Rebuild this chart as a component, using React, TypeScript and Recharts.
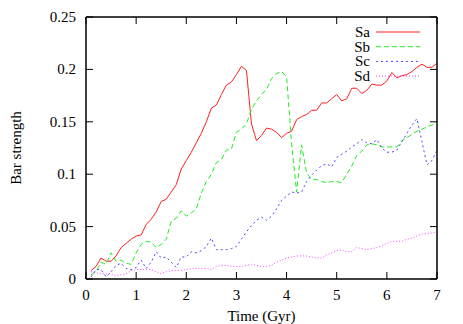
import React from "react";
import { LineChart, Line, XAxis, YAxis, Legend, ReferenceArea } from "recharts";

const TIME = [
  0.1, 0.2, 0.3, 0.4, 0.5, 0.6, 0.7, 0.8, 0.9, 1.0,
  1.1, 1.2, 1.3, 1.4, 1.5, 1.6, 1.7, 1.8, 1.9, 2.0,
  2.1, 2.2, 2.3, 2.4, 2.5, 2.6, 2.7, 2.8, 2.9, 3.0,
  3.1, 3.2, 3.3, 3.4, 3.5, 3.6, 3.7, 3.8, 3.9, 4.0,
  4.1, 4.2, 4.3, 4.4, 4.5, 4.6, 4.7, 4.8, 4.9, 5.0,
  5.1, 5.2, 5.3, 5.4, 5.5, 5.6, 5.7, 5.8, 5.9, 6.0,
  6.1, 6.2, 6.3, 6.4, 6.5, 6.6, 6.7, 6.8, 6.9, 7.0,
];

const SA = [
  0.008, 0.012, 0.020, 0.017, 0.017, 0.022, 0.030, 0.034, 0.038, 0.041,
  0.042, 0.052, 0.057, 0.064, 0.074, 0.076, 0.083, 0.090, 0.105, 0.113,
  0.121, 0.130, 0.139, 0.150, 0.163, 0.166, 0.176, 0.185, 0.188, 0.195,
  0.203, 0.199, 0.148, 0.132, 0.137, 0.144, 0.143, 0.140, 0.135, 0.139,
  0.141, 0.152, 0.155, 0.157, 0.161, 0.161, 0.168, 0.168, 0.172, 0.176,
  0.170, 0.172, 0.182, 0.182, 0.177, 0.180, 0.186, 0.185, 0.185, 0.189,
  0.197, 0.192, 0.194, 0.195, 0.198, 0.202, 0.205, 0.202, 0.202, 0.206,
];

const SB = [
  0.004, 0.007, 0.016, 0.014, 0.025, 0.017, 0.018, 0.015, 0.014, 0.025,
  0.033, 0.036, 0.035, 0.030, 0.033, 0.038, 0.055, 0.058, 0.065, 0.060,
  0.063, 0.067, 0.082, 0.093, 0.100, 0.111, 0.114, 0.123, 0.124, 0.140,
  0.143, 0.148, 0.162, 0.170, 0.176, 0.181, 0.191, 0.196, 0.198, 0.193,
  0.130, 0.083, 0.128, 0.101, 0.095, 0.095, 0.093, 0.092, 0.093, 0.093,
  0.092, 0.100, 0.108, 0.118, 0.122, 0.128, 0.129, 0.128, 0.126, 0.126,
  0.126, 0.126, 0.132, 0.135, 0.138, 0.141, 0.143, 0.145, 0.147, 0.148,
];

const SC = [
  0.002, 0.009, 0.009, 0.002, 0.007, 0.013, 0.015, 0.010, 0.009, 0.011,
  0.018, 0.010, 0.016, 0.026, 0.020, 0.021, 0.016, 0.011, 0.021, 0.021,
  0.026, 0.025, 0.027, 0.031, 0.039, 0.028, 0.028, 0.028, 0.029, 0.031,
  0.038, 0.045, 0.051, 0.056, 0.059, 0.056, 0.060, 0.067, 0.075, 0.079,
  0.083, 0.082, 0.083, 0.093, 0.099, 0.104, 0.108, 0.110, 0.107, 0.116,
  0.119, 0.122, 0.126, 0.129, 0.133, 0.130, 0.129, 0.133, 0.125, 0.121,
  0.121, 0.123, 0.131, 0.139, 0.147, 0.153, 0.131, 0.109, 0.113, 0.123,
];

const SD = [
  0.007, 0.006, 0.005, 0.005, 0.005, 0.003, 0.004, 0.005, 0.008, 0.009,
  0.009, 0.009, 0.009, 0.007, 0.005, 0.007, 0.008, 0.008, 0.008, 0.009,
  0.010, 0.010, 0.010, 0.010, 0.009, 0.012, 0.013, 0.013, 0.012, 0.012,
  0.012, 0.013, 0.014, 0.013, 0.012, 0.012, 0.013, 0.016, 0.018, 0.020,
  0.021, 0.022, 0.022, 0.022, 0.021, 0.020, 0.020, 0.023, 0.025, 0.027,
  0.028, 0.026, 0.026, 0.030, 0.029, 0.028, 0.029, 0.030, 0.032, 0.034,
  0.036, 0.036, 0.036, 0.038, 0.039, 0.041, 0.043, 0.043, 0.044, 0.045,
];

const X_TICKS = [0, 1, 2, 3, 4, 5, 6, 7];
const Y_TICKS = [0, 0.05, 0.1, 0.15, 0.2, 0.25];

const SERIES = [
  { key: "Sa", color: "#ff2020", dash: undefined },
  { key: "Sb", color: "#20ee20", dash: "5 3" },
  { key: "Sc", color: "#4848ff", dash: "2 3" },
  { key: "Sd", color: "#ff40ff", dash: "1 2" },
];

const data = TIME.map((t, i) => ({ t, Sa: SA[i], Sb: SB[i], Sc: SC[i], Sd: SD[i] }));

const FONT = '"Liberation Serif", "Times New Roman", serif';
const TICK_LEN = 7;
const X_GAP = 10; // label gap below bottom axis
const Y_GAP = 10; // label gap left of left axis
const axisLine = { stroke: "#000", strokeWidth: 1 };

// gnuplot-style ticks: marks point into the plot, labels stay outside
const bottomTick = (p: any) => {
  const y0 = p.y - X_GAP;
  return (
    <g>
      <line x1={p.x} x2={p.x} y1={y0} y2={y0 - TICK_LEN} stroke="#000" strokeWidth={1} />
      <text x={p.x} y={p.y + 11} textAnchor="middle" fontSize={15} fontFamily={FONT} fill="#000">
        {p.payload.value}
      </text>
    </g>
  );
};

const topTick = (p: any) => {
  const y0 = p.y + X_GAP;
  return <line x1={p.x} x2={p.x} y1={y0} y2={y0 + TICK_LEN} stroke="#000" strokeWidth={1} />;
};

const leftTick = (p: any) => {
  const x0 = p.x + Y_GAP;
  return (
    <g>
      <line x1={x0} x2={x0 + TICK_LEN} y1={p.y} y2={p.y} stroke="#000" strokeWidth={1} />
      <text x={p.x} y={p.y + 5} textAnchor="end" fontSize={15} fontFamily={FONT} fill="#000">
        {p.payload.value}
      </text>
    </g>
  );
};

const rightTick = (p: any) => {
  const x0 = p.x - Y_GAP;
  return <line x1={x0} x2={x0 - TICK_LEN} y1={p.y} y2={p.y} stroke="#000" strokeWidth={1} />;
};

function KeyBox() {
  return (
    <svg width={90} height={65} style={{ display: "block" }}>
      {SERIES.map((s, i) => {
        const cy = 12 + i * 14.7;
        return (
          <g key={s.key}>
            <text x={30} y={cy + 5} textAnchor="end" fontSize={15} fontFamily={FONT} fill="#000">
              {s.key}
            </text>
            <line x1={36} x2={80} y1={cy} y2={cy} stroke={s.color} strokeDasharray={s.dash} />
          </g>
        );
      })}
    </svg>
  );
}

export default function App() {
  return (
    <div style={{ position: "absolute", left: 0, top: 0, width: 463, height: 324, background: "#fff", fontFamily: FONT }}>
      <LineChart width={463} height={324} data={data} margin={{ top: 16, right: 25, bottom: 0, left: 0 }}>
        <XAxis
          dataKey="t"
          type="number"
          domain={[0, 7]}
          ticks={X_TICKS}
          height={45}
          tickSize={0}
          tickMargin={X_GAP}
          tick={bottomTick}
          axisLine={axisLine}
          tickLine={false}
          label={{ value: "Time (Gyr)", position: "insideBottom", offset: 3, fontSize: 15, fill: "#000", fontFamily: FONT }}
        />
        <XAxis
          xAxisId="top"
          dataKey="t"
          orientation="top"
          type="number"
          domain={[0, 7]}
          ticks={X_TICKS}
          height={1}
          tickSize={0}
          tickMargin={X_GAP}
          tick={topTick}
          axisLine={axisLine}
          tickLine={false}
        />
        <YAxis
          type="number"
          domain={[0, 0.25]}
          ticks={Y_TICKS}
          width={86}
          tickSize={0}
          tickMargin={Y_GAP}
          tick={leftTick}
          axisLine={axisLine}
          tickLine={false}
          label={{ value: "Bar strength", angle: -90, position: "insideLeft", offset: 16, fontSize: 15, fill: "#000", fontFamily: FONT, style: { textAnchor: "middle" } }}
        />
        <YAxis
          yAxisId="right"
          orientation="right"
          type="number"
          domain={[0, 0.25]}
          ticks={Y_TICKS}
          width={1}
          tickSize={0}
          tickMargin={Y_GAP}
          tick={rightTick}
          axisLine={axisLine}
          tickLine={false}
        />
        <ReferenceArea x1={0} x2={7} y1={0} y2={0.25} fill="none" stroke="#000" strokeWidth={1} ifOverflow="visible" />
        <Legend
          layout="vertical"
          align="center"
          verticalAlign="middle"
          content={() => <KeyBox />}
          wrapperStyle={{ position: "absolute", left: 340, top: 20, width: 90, height: 65 }}
        />
        {SERIES.map((s, i) => (
          <Line
            key={s.key}
            dataKey={s.key}
            xAxisId={i === 3 ? "top" : 0}
            yAxisId={i === 3 ? "right" : 0}
            type="linear"
            stroke={s.color}
            strokeWidth={1}
            strokeDasharray={s.dash}
            dot={false}
            activeDot={false}
            isAnimationActive={false}
          />
        ))}
      </LineChart>
    </div>
  );
}
